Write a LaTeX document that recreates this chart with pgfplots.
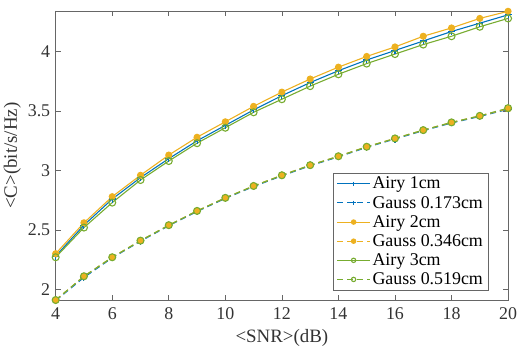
\documentclass[border=0pt]{standalone}
\usepackage{fontspec}
\setmainfont{Liberation Serif}
\usepackage{pgfplots}
\pgfplotsset{compat=1.18}
\definecolor{mblue}{rgb}{0,0.447,0.741}
\definecolor{morange}{rgb}{0.929,0.694,0.125}
\definecolor{mgreen}{rgb}{0.466,0.674,0.188}
\begin{document}
\begin{tikzpicture}
\useasboundingbox (-56pt,-49pt) rectangle (466pt,302pt);
\begin{axis}[
  at={(0pt,0pt)}, anchor=origin,
  scale only axis,
  width=455pt, height=291pt,
  xmin=4, xmax=20, ymin=1.908, ymax=4.343,
  xtick={4,6,...,20},
  xticklabels={4,6,8,10,12,14,16,18,20},
  ytick={2,2.5,3,3.5,4},
  yticklabels={2,2.5,3,3.5,4},
  /pgf/number format/assume math mode=true,
  tick align=inside,
  major tick length=5pt,
  axis line style={draw=black!60, line width=0.6pt},
  tick style={draw=black!60, line width=0.6pt},
  ticklabel style={font=\fontsize{18}{20}\selectfont, text=black!80},
  xticklabel style={yshift=-4pt},
  yticklabel style={xshift=-2pt},
  xlabel={<SNR>(dB)},
  ylabel={<C>(bit/s/Hz)},
  label style={font=\fontsize{19}{21}\selectfont, text=black!80},
  xlabel style={yshift=-3pt},
  legend style={at={(0.956,0.034)}, anchor=south east, draw=black!60, line width=0.6pt,
    font=\fontsize{18}{20}\selectfont, row sep=1.8pt, inner sep=2pt, inner xsep=3pt},
  legend cell align=left,
  legend image code/.code={\draw[#1] (0pt,0pt) -- (16pt,0pt) -- (33pt,0pt); \draw[#1,only marks] plot coordinates {(16.5pt,0pt)};},
  legend image post style={mark size=2.2pt},
]
\addplot[mblue, line width=1.1pt, mark=+, mark size=3.5pt, mark options={solid}] coordinates {
(4,2.28)(5,2.54)(6,2.76)(7,2.94)(8,3.10)(9,3.25)(10,3.38)(11,3.51)(12,3.63)(13,3.74)(14,3.84)(15,3.93)(16,4.01)(17,4.09)(18,4.17)(19,4.24)(20,4.31)};
\addlegendentry{Airy 1cm}
\addplot[mblue, line width=1.1pt, dashed, dash pattern=on 6pt off 4pt, mark=+, mark size=3.5pt, mark options={solid}] coordinates {
(4,1.905)(5,2.10)(6,2.265)(7,2.405)(8,2.535)(9,2.655)(10,2.765)(11,2.865)(12,2.955)(13,3.04)(14,3.115)(15,3.195)(16,3.265)(17,3.335)(18,3.40)(19,3.455)(20,3.515)};
\addlegendentry{Gauss 0.173cm}
\addplot[morange, line width=1.1pt, mark=*, mark size=3pt, mark options={solid}] coordinates {
(4,2.30)(5,2.56)(6,2.78)(7,2.96)(8,3.13)(9,3.28)(10,3.41)(11,3.54)(12,3.66)(13,3.77)(14,3.87)(15,3.96)(16,4.04)(17,4.13)(18,4.20)(19,4.28)(20,4.34)};
\addlegendentry{Airy 2cm}
\addplot[morange, line width=1.1pt, dashed, dash pattern=on 6pt off 4pt, mark=*, mark size=3pt, mark options={solid}] coordinates {
(4,1.91)(5,2.11)(6,2.27)(7,2.41)(8,2.54)(9,2.66)(10,2.77)(11,2.87)(12,2.96)(13,3.045)(14,3.12)(15,3.20)(16,3.27)(17,3.34)(18,3.405)(19,3.46)(20,3.52)};
\addlegendentry{Gauss 0.346cm}
\addplot[mgreen, line width=1.1pt, mark=o, mark size=3.5pt, mark options={solid}] coordinates {
(4,2.27)(5,2.52)(6,2.73)(7,2.92)(8,3.08)(9,3.23)(10,3.36)(11,3.49)(12,3.60)(13,3.71)(14,3.81)(15,3.90)(16,3.98)(17,4.06)(18,4.13)(19,4.21)(20,4.28)};
\addlegendentry{Airy 3cm}
\addplot[mgreen, line width=1.1pt, dashed, dash pattern=on 6pt off 4pt, mark=o, mark size=3.5pt, mark options={solid}] coordinates {
(4,1.91)(5,2.11)(6,2.27)(7,2.41)(8,2.54)(9,2.66)(10,2.77)(11,2.87)(12,2.96)(13,3.045)(14,3.12)(15,3.20)(16,3.27)(17,3.34)(18,3.405)(19,3.46)(20,3.525)};
\addlegendentry{Gauss 0.519cm}
\end{axis}
\end{tikzpicture}
\end{document}
